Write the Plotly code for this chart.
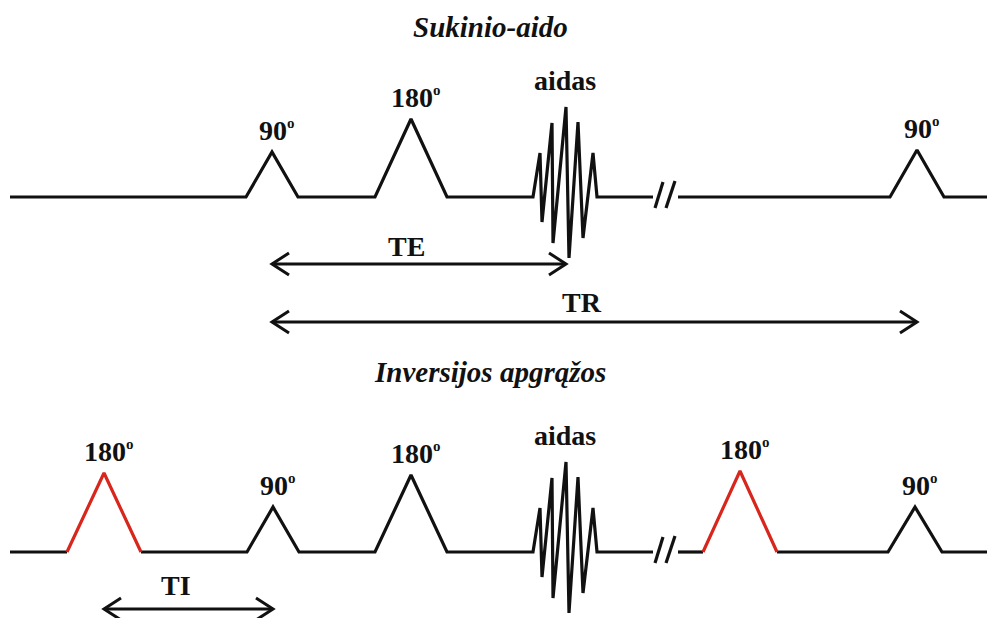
import plotly.graph_objects as go

# ---- sequence data -------------------------------------------------------
# Spin-echo row
SE_BASELINE = 197
SE_PULSE_X = [272, 411, 917]
SE_PULSE_H = [45, 78, 47]
SE_PULSE_HW = [26, 36, 27]
SE_PULSE_LABEL = ["90", "180", "90"]
SE_PULSE_INV = [False, False, False]

# Inversion-recovery row
IR_BASELINE = 552
IR_PULSE_X = [104, 273, 411, 740, 915]
IR_PULSE_H = [79, 45, 77, 81, 45]
IR_PULSE_HW = [37, 26, 36, 37, 27]
IR_PULSE_LABEL = ["180", "90", "180", "180", "90"]
IR_PULSE_INV = [True, False, False, True, False]

# Echo waveform (offset from echo centre, amplitude above baseline)
ECHO_X = 566
ECHO_DX = [-33, -26, -24, -14, -13, 0, 3, 12, 17, 27, 31]
ECHO_AMP = [0, 44, -25, 74, -46, 90, -61, 75, -41, 44, 0]

BREAK_X = 665
LINE_START = 10
LINE_END = 987

# Timing intervals: (label, start, end, y, label_y)
SE_INTERVALS = [("TE", 272, ECHO_X, 264, 246), ("TR", 272, 917, 322, 302)]
IR_INTERVALS = [("TI", 104, 273, 609, 585)]

TITLES = [("Sukinio-aido", 27), ("Inversijos apgrąžos", 372)]

BLACK = "#111111"
RED = "#d8261c"
LW = 3.2
FONT = "Times New Roman, Liberation Serif, DejaVu Serif, serif"


def row_paths(base, px, ph, phw, inv):
    """Return (black_x, black_y, red_x, red_y) for one timing row."""
    events = []
    for x, h, w, r in zip(px, ph, phw, inv):
        events.append(("pulse", x, h, w, r))
    events.append(("echo", ECHO_X))
    events.append(("break", BREAK_X))
    events.sort(key=lambda e: e[1])

    bx, by, rx, ry = [LINE_START], [base], [], []
    for ev in events:
        if ev[0] == "pulse":
            _, x, h, w, r = ev
            if r:
                bx += [x - w, None]
                by += [base, None]
                rx += [x - w, x, x + w, None]
                ry += [base, base - h, base, None]
                bx.append(x + w)
                by.append(base)
            else:
                bx += [x - w, x, x + w]
                by += [base, base - h, base]
        elif ev[0] == "echo":
            for dx, a in zip(ECHO_DX, ECHO_AMP):
                bx.append(ev[1] + dx)
                by.append(base - a)
        else:
            c = ev[1]
            bx += [c - 12, None, c + 13]
            by += [base, None, base]
            # two slanted break strokes
            bx += [None, c - 10, c - 2, None, c + 1, c + 10, None, c + 13]
            by += [None, base + 11, base - 15, None, base + 11, base - 16, None, base]
    bx.append(LINE_END)
    by.append(base)
    return bx, by, rx, ry


def arrow_path(x0, x1, y, hl=17, hh=11):
    xs = [x0, x1, None, x0 + hl, x0, x0 + hl, None, x1 - hl, x1, x1 - hl]
    ys = [y, y, None, y - hh, y, y + hh, None, y - hh, y, y + hh]
    return xs, ys


fig = go.Figure()
annotations = []


def deg_label(txt):
    return "<b>" + txt + "<sup><span style='font-size:15px'>o</span></sup></b>"


for base, px, ph, phw, inv, labels, intervals in [
    (SE_BASELINE, SE_PULSE_X, SE_PULSE_H, SE_PULSE_HW, SE_PULSE_INV, SE_PULSE_LABEL, SE_INTERVALS),
    (IR_BASELINE, IR_PULSE_X, IR_PULSE_H, IR_PULSE_HW, IR_PULSE_INV, IR_PULSE_LABEL, IR_INTERVALS),
]:
    bx, by, rx, ry = row_paths(base, px, ph, phw, inv)
    fig.add_trace(go.Scatter(x=bx, y=by, mode="lines",
                             line=dict(color=BLACK, width=LW), hoverinfo="skip"))
    if rx:
        fig.add_trace(go.Scatter(x=rx, y=ry, mode="lines",
                                 line=dict(color=RED, width=LW), hoverinfo="skip"))
    for x, h, lab in zip(px, ph, labels):
        annotations.append(dict(x=x + 5, y=base - h - 22, text=deg_label(lab),
                                showarrow=False, yanchor="middle",
                                font=dict(family=FONT, size=28, color=BLACK)))
    top = max(ECHO_AMP)
    annotations.append(dict(x=ECHO_X - 1, y=base - top - 27, text="<b>aidas</b>",
                            showarrow=False, yanchor="middle",
                            font=dict(family=FONT, size=28, color=BLACK)))
    for lab, x0, x1, y, ly in intervals:
        ax, ay = arrow_path(x0, x1, y)
        fig.add_trace(go.Scatter(x=ax, y=ay, mode="lines",
                                 line=dict(color=BLACK, width=3), hoverinfo="skip"))
        annotations.append(dict(x=(x0 + x1) / 2 - 13, y=ly, text="<b>" + lab + "</b>",
                                showarrow=False, yanchor="middle",
                                font=dict(family=FONT, size=28, color=BLACK)))

for title, ty in TITLES:
    annotations.append(dict(x=490, y=ty, text="<b><i>" + title + "</i></b>",
                            showarrow=False, yanchor="middle",
                            font=dict(family=FONT, size=29, color=BLACK)))

fig.update_layout(
    width=987, height=618,
    margin=dict(l=0, r=0, t=0, b=0),
    paper_bgcolor="white", plot_bgcolor="white",
    showlegend=False,
    xaxis=dict(range=[0, 987], visible=False, fixedrange=True),
    yaxis=dict(range=[618, 0], visible=False, fixedrange=True),
    annotations=annotations,
)

fig.write_html("out.html")
